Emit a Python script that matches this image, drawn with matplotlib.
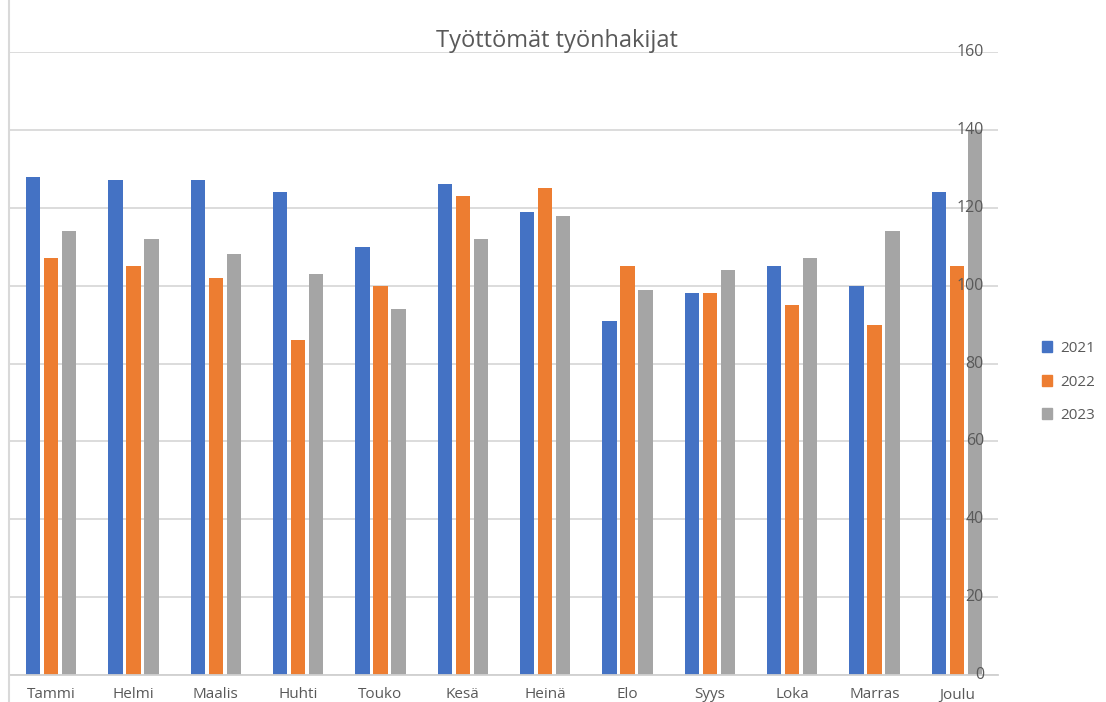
import matplotlib
matplotlib.use("Agg")
import matplotlib.pyplot as plt
import numpy as np
from matplotlib.lines import Line2D
import matplotlib.transforms as mtransforms

months = ["Tammi", "Helmi", "Maalis", "Huhti", "Touko", "Kesä",
          "Heinä", "Elo", "Syys", "Loka", "Marras", "Joulu"]
y2021 = [128, 127, 127, 124, 110, 126, 119, 91, 98, 105, 100, 124]
y2022 = [107, 105, 102, 86, 100, 123, 125, 105, 98, 95, 90, 105]
y2023 = [114, 112, 108, 103, 94, 112, 118, 99, 104, 107, 114, 140]
series_names = ["2021", "2022", "2023"]
colors = ["#4472C4", "#ED7D31", "#A5A5A5"]
yticks = [0, 20, 40, 60, 80, 100, 120, 140, 160]

plt.rcParams['font.family'] = ['Open Sans', 'DejaVu Sans']

W, H = 1106, 702
fig = plt.figure(figsize=(W / 100, H / 100), dpi=100)
ax = fig.add_axes([10 / W, 1 - 675 / H, 988 / W, 623 / H])

x = np.arange(len(months))
step = 18 / 82.33
width = 14.3 / 82.33
for i, (vals, name, c) in enumerate(zip([y2021, y2022, y2023], series_names, colors)):
    ax.bar(x + (i - 1) * step, vals, width=width, color=c, label=name, zorder=2)

ax.set_xlim(-0.5, len(months) - 0.5)
ax.set_ylim(0, 160)
ax.set_yticks(yticks)
ax.grid(axis='y', color='#D9D9D9', linewidth=1.3, zorder=0)
ax.set_axisbelow(True)
for s in ['top', 'right', 'left']:
    ax.spines[s].set_visible(False)
ax.spines['bottom'].set_color('#D0D0D0')
ax.spines['bottom'].set_linewidth(1.3)
ax.spines['bottom'].set_zorder(3)

ax.tick_params(axis='y', length=0, labelleft=False, labelright=False)
trans = mtransforms.blended_transform_factory(ax.transAxes, ax.transData)
for t in yticks:
    ax.text((984 - 10) / 988, t, str(t), transform=trans, ha='right', va='center',
            fontsize=11.5, color='#595959', zorder=5)

ax.set_xticks(x)
ax.set_xticklabels(months)
ax.tick_params(axis='x', length=0, pad=9, labelsize=11, labelcolor='#595959')

fig.text(557 / W, 1 - 41 / H, "Työttömät työnhakijat", ha='center', va='center',
         fontsize=17, color='#595959')

fig.add_artist(Line2D([9 / W, 9 / W], [0, 1], color='#D9D9D9', linewidth=1.5))

handles = [plt.Rectangle((0, 0), 1, 1, color=c) for c in colors]
fig.legend(handles, series_names, loc='center left',
           bbox_to_anchor=(1028 / W, 1 - 382 / H), frameon=False,
           fontsize=11, labelcolor='#595959', handlelength=0.7,
           handleheight=0.7, handletextpad=0.5, labelspacing=1.2)

fig.savefig("out.png", dpi=100)
